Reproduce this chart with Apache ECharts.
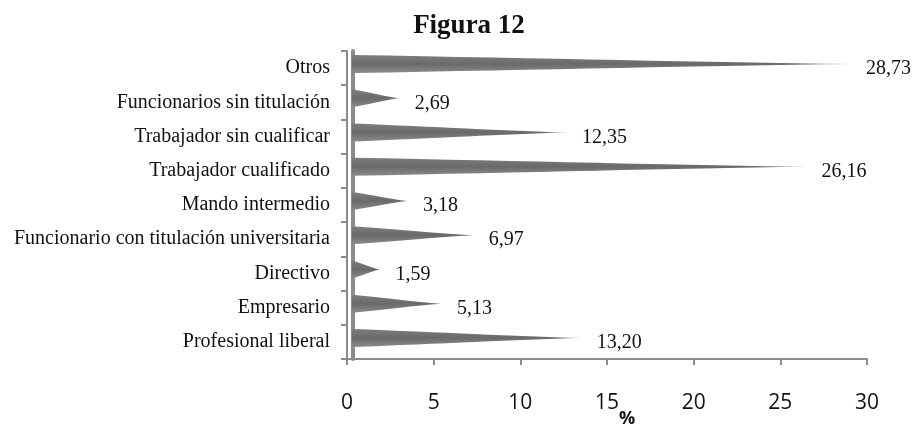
<!DOCTYPE html>
<html>
<head>
<meta charset="utf-8">
<script src="https://cdn.jsdelivr.net/npm/echarts@6/dist/echarts.min.js"></script>
<style>
  html, body { margin: 0; padding: 0; background: #fff; }
  #chart { width: 914px; height: 426px; }
</style>
</head>
<body>
<div id="chart"></div>
<script>
// categories bottom -> top (category axis starts at the bottom)
const categories = [
  "Profesional liberal",
  "Empresario",
  "Directivo",
  "Funcionario con titulación universitaria",
  "Mando intermedio",
  "Trabajador cualificado",
  "Trabajador sin cualificar",
  "Funcionarios sin titulación",
  "Otros",
];
const values = [13.20, 5.13, 1.59, 6.97, 3.18, 26.16, 12.35, 2.69, 28.73];
const xTicks = [0, 5, 10, 15, 20, 25, 30];

const chart = echarts.init(document.getElementById("chart"));

const option = {
  animation: false,
  title: {
    text: "Figura 12",
    left: 464,
    textAlign: "center",
    top: 8,
    textStyle: {
      fontFamily: "Liberation Serif",
      fontWeight: "bold",
      fontSize: 27,
      color: "#111",
    },
  },
  grid: {
    left: 347,
    right: 47,
    top: 51,
    bottom: 67,
    containLabel: false,
    outerBoundsMode: "none",
  },
  xAxis: {
    type: "value",
    min: xTicks[0],
    max: xTicks[xTicks.length - 1],
    interval: 5,
    splitLine: { show: false },
    axisLine: { show: true, lineStyle: { color: "#8c8c8c", width: 2 } },
    axisTick: { show: true, length: 6, lineStyle: { color: "#8c8c8c", width: 2 } },
    axisLabel: {
      margin: 34,
      fontFamily: "Open Sans",
      fontSize: 21,
      color: "#111",
    },
    name: "%",
    nameLocation: "middle",
    nameGap: 51,
    nameMoveOverlap: false,
    nameTextStyle: {
      fontFamily: "Open Sans",
      fontWeight: "bold",
      fontSize: 18,
      color: "#111",
      padding: [0, 0, 0, 40],
    },
  },
  yAxis: [
    {
      type: "category",
      data: categories,
      axisLine: { show: true, lineStyle: { color: "#8c8c8c", width: 2 } },
      axisTick: { show: true, length: 6, lineStyle: { color: "#8c8c8c", width: 2 } },
      axisLabel: {
        margin: 17,
        fontFamily: "Liberation Serif",
        fontSize: 20,
        color: "#111",
      },
    },
    {
      // back wall of the 3d frame
      type: "category",
      data: categories,
      position: "left",
      offset: -6,
      axisLine: { show: true, lineStyle: { color: "#8c8c8c", width: 4 } },
      axisTick: { show: false },
      axisLabel: { show: false },
    },
  ],
  series: [
    {
      type: "pictorialBar",
      yAxisIndex: 0,
      data: values,
      symbol: "path://M0,0 C40,18 70,40 100,50 C70,60 40,82 0,100 Z",
      symbolSize: ["100%", 18],
      symbolPosition: "start",
      symbolOffset: [5, -4],
      itemStyle: {
        color: {
          type: "linear",
          x: 0, y: 0, x2: 0, y2: 1,
          colorStops: [
            { offset: 0, color: "#7e7e7e" },
            { offset: 0.5, color: "#6a6a6a" },
            { offset: 1, color: "#8a8a8a" },
          ],
        },
      },
      label: {
        show: true,
        position: "right",
        offset: [11, 1],
        fontFamily: "Liberation Serif",
        fontSize: 20,
        color: "#111",
        formatter: (p) => p.value.toFixed(2).replace(".", ","),
      },
    },
  ],
};

chart.setOption(option);
</script>
</body>
</html>
